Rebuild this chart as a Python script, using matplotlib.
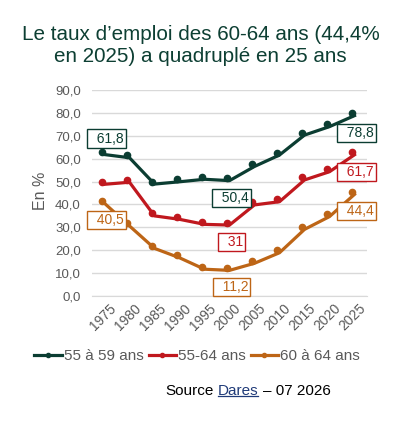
import matplotlib
matplotlib.use("Agg")
import matplotlib.pyplot as plt
import matplotlib.transforms as mtrans
from matplotlib.lines import Line2D

plt.rcParams['font.family'] = ['Liberation Sans', 'DejaVu Sans']

years = ["1975", "1980", "1985", "1990", "1995", "2000", "2005", "2010", "2015", "2020", "2025"]
age_55_59 = [61.8, 60.4, 48.9, 49.9, 51.0, 50.4, 56.6, 61.6, 70.3, 74.0, 78.8]
age_55_64 = [48.8, 49.7, 35.0, 33.5, 31.3, 31.0, 39.8, 41.2, 50.7, 54.3, 61.7]
age_60_64 = [40.5, 30.6, 20.8, 16.7, 11.7, 11.2, 14.3, 18.9, 29.1, 34.7, 44.4]

series_names = ["55 à 59 ans", "55-64 ans", "60 à 64 ans"]
series = [age_55_59, age_55_64, age_60_64]
colors = ["#0B3D32", "#C0181E", "#BD6516"]

# labelled points: (series index, year index, text, above?)
labels = [
    (0, 0, "61,8", True), (0, 5, "50,4", False), (0, 10, "78,8", False),
    (1, 5, "31", False), (1, 10, "61,7", False),
    (2, 0, "40,5", False), (2, 5, "11,2", False), (2, 10, "44,4", False),
]

grey = "#595959"
fig = plt.figure(figsize=(4.18, 4.21), dpi=100)
ax = fig.add_axes([92/418, 125/421, 275/418, 206/421])

x = list(range(len(years)))
mk_tr = mtrans.offset_copy(ax.transData, fig=fig, x=-2.5, y=2.5, units='dots')
for vals, c in zip(series, colors):
    ax.plot(x, vals, color=c, lw=2.3, solid_joinstyle='round', zorder=3)
    ax.plot(x, vals, color=c, lw=0, marker='o', ms=4.5, transform=mk_tr, zorder=4)

for si, xi, txt, above in labels:
    c = colors[si]
    dy = 16 if above else -17
    ax.annotate("  " + txt, xy=(xi, series[si][xi]), xytext=(1.5, dy * 0.72),
                textcoords='offset points', ha='center', va='center',
                fontsize=10, color=c, zorder=6,
                bbox=dict(boxstyle='square,pad=0.15', fc='white', ec=c, lw=1.0))

ax.set_xlim(-0.5, len(years) - 0.5)
ax.set_ylim(0, 90)
ax.set_yticks(range(0, 91, 10))
ax.set_yticklabels([f"{v:.1f}".replace('.', ',') for v in range(0, 91, 10)])
ax.set_xticks(x)
ax.set_xticklabels(years, rotation=45, ha='right', va='top', rotation_mode='anchor')
ax.tick_params(axis='both', length=0, colors=grey)
ax.tick_params(axis='y', pad=8, labelsize=9.5)
ax.tick_params(axis='x', pad=4, labelsize=10)
for lab in ax.get_xticklabels():
    lab.set_transform(lab.get_transform() + mtrans.ScaledTranslation(4/100, 0, fig.dpi_scale_trans))
ax.grid(axis='y', color='#D9D9D9', lw=1)
ax.set_axisbelow(True)
for s in ['top', 'right', 'left']:
    ax.spines[s].set_visible(False)
ax.spines['bottom'].set_color('#D9D9D9')
ax.set_ylabel("En %", fontsize=11.5, color=grey)
ax.yaxis.set_label_coords(-44/275, 0.51)

fig.text(200.5/418, 1 - 25/421, "Le taux d\u2019emploi des 60-64 ans (44,4%\nen 2025) a quadruplé en 25 ans",
         ha='center', va='top', fontsize=14.9, color="#0D3F33", linespacing=1.22)

handles = [Line2D([], [], color=c, lw=2.3, marker='o', ms=3) for c in colors]
fig.legend(handles, series_names, loc='center', bbox_to_anchor=(197/418, 1 - 356/421),
           ncol=3, frameon=False, fontsize=11, handlelength=1.8, handletextpad=0.1,
           columnspacing=0.35, labelcolor=grey)

t1 = fig.text(165/418, 1 - 395/421, "Source", fontsize=11, color='black', va='baseline')
t2 = ax.annotate("Dares", xy=(1, 0), xycoords=t1, xytext=(3.1, 0), textcoords='offset points',
                 va='bottom', ha='left', fontsize=11, color='#1F3A78', annotation_clip=False)
t3 = ax.annotate("\u2013 07 2026", xy=(1, 0), xycoords=t2, xytext=(3.1, 0), textcoords='offset points',
                 va='bottom', ha='left', fontsize=11, color='black', annotation_clip=False)
fig.canvas.draw()
bb = t2.get_window_extent()
fig.add_artist(Line2D([bb.x0, bb.x1], [bb.y0 + 2, bb.y0 + 2], color='#1F3A78', lw=0.9,
                      transform=mtrans.IdentityTransform()))

fig.savefig("out.png", dpi=100)
